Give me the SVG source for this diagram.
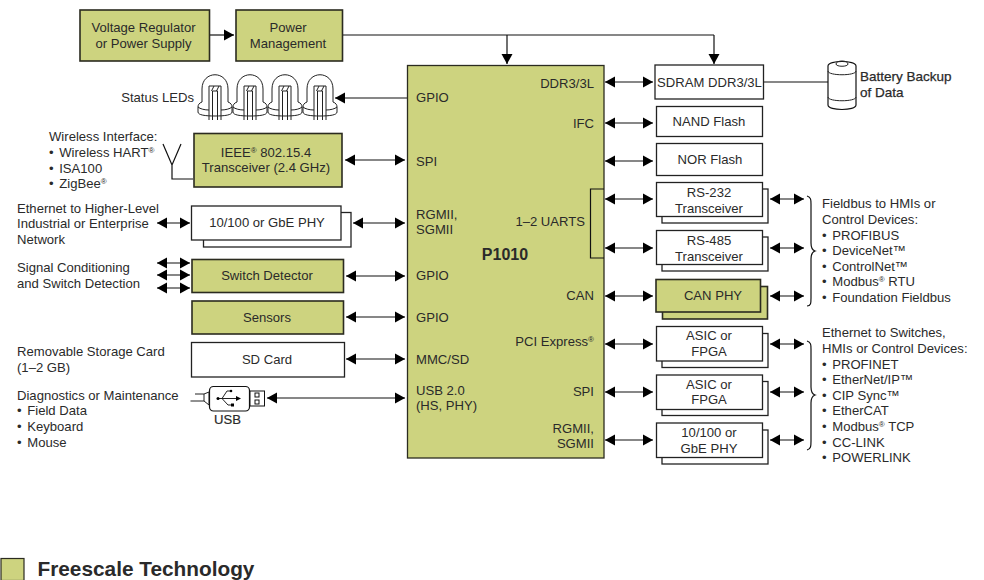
<svg xmlns="http://www.w3.org/2000/svg" width="984" height="580" viewBox="0 0 984 580">
<style>
text{font-family:"Liberation Sans",Arial,sans-serif;font-size:13.100px;fill:#2a2a2a}
.m{text-anchor:middle}
.e{text-anchor:end}
.b{font-weight:bold}
.g{fill:#cdd37f;stroke:#2b2b20;stroke-width:1.6}
.w{fill:#fff;stroke:#222;stroke-width:1.3}
.l{fill:none;stroke:#111;stroke-width:1.2}
.t{fill:none;stroke:#222;stroke-width:1}
</style>
<defs>
<marker id="a" markerWidth="11" markerHeight="12" refX="10" refY="6" orient="auto-start-reverse" markerUnits="userSpaceOnUse"><path d="M0 0.500L10 6L0 11.500z" fill="#000"/></marker>
<g id="led"><path class="t" d="M202 102V89C202 70 228 70 228 89V102M202 102C199 103 198 105 198 107V112C198 115 205 116 215 116C225 116 232 115 232 112V107C232 105 231 103 228 102M198 107C200 109 205 110 209 110M232 107C230 109 225 110 221 110"/><path class="t" d="M209 120V86H221V120M212.500 120V91M217.500 120V91M212.500 91H217.500M214 86L211.500 91M219 86L216.500 91"/></g>
</defs>
<g id="connectors" class="l">
<path marker-end="url(#a)" d="M210 35H234"/>
<path d="M343 35H714"/>
<path marker-end="url(#a)" d="M507 35V64"/>
<path marker-end="url(#a)" d="M714 35V64"/>
<path marker-end="url(#a)" d="M407 98H335"/>
<path marker-start="url(#a)" marker-end="url(#a)" d="M345 160H405"/>
<path marker-start="url(#a)" marker-end="url(#a)" d="M353 223H405"/>
<path marker-start="url(#a)" marker-end="url(#a)" d="M157 223H190"/>
<path marker-start="url(#a)" marker-end="url(#a)" d="M157 263H190"/>
<path marker-start="url(#a)" marker-end="url(#a)" d="M157 275H190"/>
<path marker-start="url(#a)" marker-end="url(#a)" d="M157 288H190"/>
<path marker-start="url(#a)" marker-end="url(#a)" d="M346 276H405"/>
<path marker-start="url(#a)" marker-end="url(#a)" d="M346 317H405"/>
<path marker-start="url(#a)" marker-end="url(#a)" d="M346 359H405"/>
<path marker-start="url(#a)" marker-end="url(#a)" d="M267 398H405"/>
<path d="M172 165V179H193M163 144L172 165L181 144"/>
<path d="M763 82H829"/>
<path marker-start="url(#a)" marker-end="url(#a)" d="M605 82H653"/>
<path marker-start="url(#a)" marker-end="url(#a)" d="M605 123H653"/>
<path marker-start="url(#a)" marker-end="url(#a)" d="M605 161H653"/>
<path marker-start="url(#a)" marker-end="url(#a)" d="M605 199H653"/>
<path marker-start="url(#a)" marker-end="url(#a)" d="M605 248H653"/>
<path marker-start="url(#a)" marker-end="url(#a)" d="M605 296H653"/>
<path marker-start="url(#a)" marker-end="url(#a)" d="M605 344H653"/>
<path marker-start="url(#a)" marker-end="url(#a)" d="M605 392H653"/>
<path marker-start="url(#a)" marker-end="url(#a)" d="M605 440H653"/>
<path marker-start="url(#a)" marker-end="url(#a)" d="M770 199H804"/>
<path marker-start="url(#a)" marker-end="url(#a)" d="M770 248H804"/>
<path marker-start="url(#a)" marker-end="url(#a)" d="M770 296H804"/>
<path marker-start="url(#a)" marker-end="url(#a)" d="M770 344H804"/>
<path marker-start="url(#a)" marker-end="url(#a)" d="M770 392H804"/>
<path marker-start="url(#a)" marker-end="url(#a)" d="M770 440H804"/>
<path d="M807 196C811 197 811 200 811 204V243C811 248 812 250 815 251C812 252 811 254 811 259V298C811 303 811 306 807 306"/>
<path d="M807 341C811 342 811 345 811 349V387C811 392 812 394 815 395C812 396 811 398 811 403V441C811 446 811 449 807 450"/>
</g>
<g id="voltage-regulator"><rect class="g" x="80" y="10" width="129.500" height="51"/><text class="m" x="143.500" y="32">Voltage Regulator</text><text class="m" x="143.500" y="48">or Power Supply</text></g>
<g id="power-management"><rect class="g" x="236" y="10" width="106.500" height="51"/><text class="m" x="288" y="32">Power</text><text class="m" x="288" y="48">Management</text></g>
<g id="status-leds"><text class="e" x="194" y="102">Status LEDs</text><use href="#led"/><use href="#led" x="35"/><use href="#led" x="70"/><use href="#led" x="105"/></g>
<g id="wireless-label"><text x="49" y="141">Wireless Interface:</text><text x="49" y="157">•<tspan dx="2"> Wireless HART</tspan><tspan font-size="8" dy="-4">®</tspan></text><text x="49" y="173">•<tspan dx="2"> ISA100</tspan></text><text x="49" y="188">•<tspan dx="2"> ZigBee</tspan><tspan font-size="8" dy="-4">®</tspan></text></g>
<g id="ieee-transceiver"><rect class="g" x="194" y="133.500" width="148" height="53.500"/><text class="m" x="266" y="157">IEEE<tspan font-size="8" dy="-4">®</tspan><tspan dy="4"> 802.15.4</tspan></text><text class="m" x="266" y="172">Transceiver (2.4 GHz)</text></g>
<g id="ethernet-label"><text x="17" y="213">Ethernet to Higher-Level</text><text x="17" y="228">Industrial or Enterprise</text><text x="17" y="244">Network</text></g>
<g id="ethernet-phy"><rect class="w" x="203.500" y="212.500" width="147.500" height="34.500"/><rect class="w" x="191.500" y="206" width="149.500" height="34"/><text class="m" x="267" y="227">10/100 or GbE PHY</text></g>
<g id="signal-label"><text x="17" y="272">Signal Conditioning</text><text x="17" y="288">and Switch Detection</text></g>
<g id="switch-detector"><rect class="g" x="192" y="259.500" width="151.500" height="33"/><text class="m" x="267" y="280">Switch Detector</text></g>
<g id="sensors"><rect class="g" x="192" y="301" width="151.500" height="33"/><text class="m" x="267" y="322">Sensors</text></g>
<g id="storage-label"><text x="17" y="356">Removable Storage Card</text><text x="17" y="372">(1–2 GB)</text></g>
<g id="sd-card"><rect class="w" x="191.500" y="342.500" width="153" height="34.500"/><text class="m" x="267" y="364">SD Card</text></g>
<g id="diagnostics-label"><text x="17" y="400">Diagnostics or Maintenance</text><text x="17" y="415">•<tspan dx="2"> Field Data</tspan></text><text x="17" y="431">•<tspan dx="2"> Keyboard</tspan></text><text x="17" y="447">•<tspan dx="2"> Mouse</tspan></text></g>
<g id="usb">
<path class="t" d="M195 394H204L209 392V405L204 401H190.500M204 394V401"/>
<rect x="209.500" y="386.500" width="40" height="24.500" rx="4" fill="#fff" stroke="#111" stroke-width="1.200"/>
<rect x="250" y="391" width="14.500" height="15" fill="#fff" stroke="#111"/>
<rect x="255" y="393" width="4" height="4" fill="#fff" stroke="#111"/><rect x="255" y="400" width="4" height="4" fill="#fff" stroke="#111"/>
<path class="t" d="M218 398.500H240M222 398.500L227 391H231M222 398.500L228 405H232"/><path d="M241 398.500L236 396V401z" fill="#000"/><circle cx="218" cy="398.500" r="1.500" fill="#000"/><circle cx="231" cy="391" r="1.300" fill="#000"/><rect x="231" y="403.500" width="3" height="3" fill="#000"/>
<text class="m" x="227.500" y="424" style="stroke:#2a2a2a;stroke-width:.2">USB</text>
</g>
<g id="p1010">
<rect x="407.500" y="65.500" width="196.500" height="392.500" fill="#cdd37f" stroke="#2b2b20" stroke-width="1.300"/>
<path class="l" d="M604 189H590.500V258H604"/>
<text x="416" y="102">GPIO</text><text x="416" y="166">SPI</text><text x="416" y="219">RGMII,</text><text x="416" y="234">SGMII</text><text x="416" y="280">GPIO</text><text x="416" y="322">GPIO</text><text x="416" y="364">MMC/SD</text><text x="416" y="395">USB 2.0</text><text x="416" y="410">(HS, PHY)</text>
<text class="e" x="594" y="88">DDR3/3L</text><text class="e" x="594" y="128">IFC</text><text class="e" x="585" y="226">1–2 UARTS</text><text class="e" x="594" y="300">CAN</text><text class="e" x="594" y="346">PCI Express<tspan font-size="8" dy="-4">®</tspan></text><text class="e" x="594" y="396">SPI</text><text class="e" x="594" y="433">RGMII,</text><text class="e" x="594" y="448">SGMII</text>
<text class="m b" x="505" y="260" style="font-size:16px">P1010</text>
</g>
<g id="sdram"><rect class="w" x="655" y="65" width="108.500" height="34"/><text class="m" x="709.500" y="87">SDRAM DDR3/3L</text></g>
<g id="battery">
<path fill="#fff" stroke="#111" stroke-width="1.200" d="M828 66C828 60 856 60 856 66V105C856 111 828 111 828 105z"/>
<path class="t" d="M828 71C828 76 856 76 856 71M828 97C828 102 856 102 856 97M836 64C836 60 848 60 848 64C848 67 836 67 836 64z"/>
<text x="860" y="81" style="font-size:13.500px;stroke:#2a2a2a;stroke-width:.25">Battery Backup</text><text x="860" y="97" style="font-size:13.500px;stroke:#2a2a2a;stroke-width:.25">of Data</text>
</g>
<g id="nand-flash"><rect class="w" x="656.500" y="106.500" width="106" height="30"/><text class="m" x="709" y="126">NAND Flash</text></g>
<g id="nor-flash"><rect class="w" x="656.500" y="143.500" width="106" height="32"/><text class="m" x="710" y="164">NOR Flash</text></g>
<g id="rs232"><rect class="w" x="662" y="189" width="106" height="34"/><rect class="w" x="656.500" y="182.500" width="106" height="34"/><text class="m" x="709" y="197">RS-232</text><text class="m" x="709" y="213">Transceiver</text></g>
<g id="rs485"><rect class="w" x="662" y="237" width="106" height="34"/><rect class="w" x="656.500" y="230.500" width="106" height="34"/><text class="m" x="709" y="245">RS-485</text><text class="m" x="709" y="261">Transceiver</text></g>
<g id="can-phy"><rect class="g" x="662.500" y="286.500" width="105" height="32.500"/><rect class="g" x="656" y="279.500" width="104.500" height="32.500"/><text class="m" x="713" y="300">CAN PHY</text></g>
<g id="asic1"><rect class="w" x="662" y="333.500" width="106" height="34"/><rect class="w" x="656.500" y="326.500" width="106" height="34.500"/><text class="m" x="709" y="340">ASIC or</text><text class="m" x="709" y="356">FPGA</text></g>
<g id="asic2"><rect class="w" x="662" y="381.500" width="106" height="34"/><rect class="w" x="656.500" y="375" width="106" height="34.500"/><text class="m" x="709" y="389">ASIC or</text><text class="m" x="709" y="404">FPGA</text></g>
<g id="phy2"><rect class="w" x="662" y="430" width="106" height="34"/><rect class="w" x="656.500" y="423" width="106" height="34.500"/><text class="m" x="709" y="437">10/100 or</text><text class="m" x="709" y="453">GbE PHY</text></g>
<g id="fieldbus-label"><text x="822" y="208">Fieldbus to HMIs or</text><text x="822" y="224">Control Devices:</text><text x="822" y="240">•<tspan dx="2"> PROFIBUS</tspan></text><text x="822" y="255">•<tspan dx="2"> DeviceNet™</tspan></text><text x="822" y="271">•<tspan dx="2"> ControlNet™</tspan></text><text x="822" y="286">•<tspan dx="2"> Modbus</tspan><tspan font-size="8" dy="-4">®</tspan><tspan dy="4"> RTU</tspan></text><text x="822" y="302">•<tspan dx="2"> Foundation Fieldbus</tspan></text></g>
<g id="ethernet-switches-label"><text x="822" y="337">Ethernet to Switches,</text><text x="822" y="353">HMIs or Control Devices:</text><text x="822" y="369">•<tspan dx="2"> PROFINET</tspan></text><text x="822" y="384">•<tspan dx="2"> EtherNet/IP™</tspan></text><text x="822" y="400">•<tspan dx="2"> CIP Sync™</tspan></text><text x="822" y="415">•<tspan dx="2"> EtherCAT</tspan></text><text x="822" y="431">•<tspan dx="2"> Modbus</tspan><tspan font-size="8" dy="-4">®</tspan><tspan dy="4"> TCP</tspan></text><text x="822" y="447">•<tspan dx="2"> CC-LINK</tspan></text><text x="822" y="462">•<tspan dx="2"> POWERLINK</tspan></text></g>
<g id="legend"><rect x="1" y="558.500" width="23" height="22" fill="#cdd37f" stroke="#2b2b20" stroke-width="1.200"/><text class="b" x="37.500" y="576" style="font-size:20.800px">Freescale Technology</text></g>
</svg>
